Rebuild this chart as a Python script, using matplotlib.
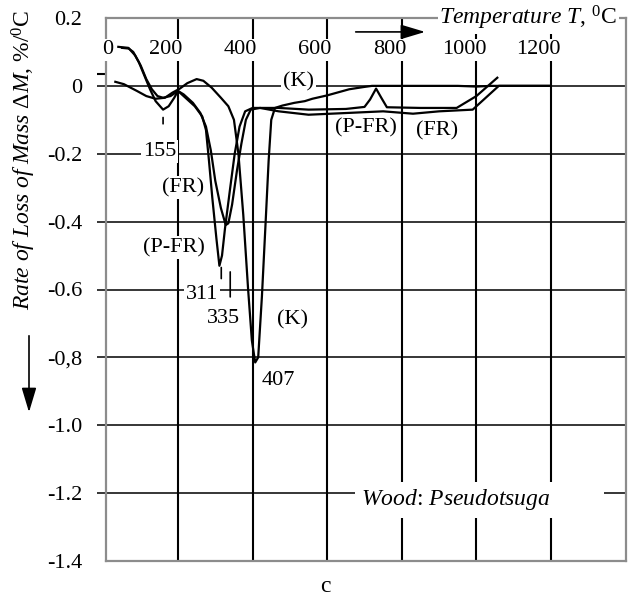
import matplotlib
matplotlib.use('Agg')
import matplotlib.pyplot as plt

plt.rcParams['font.family'] = ['Liberation Serif', 'DejaVu Serif']
plt.rcParams['mathtext.fontset'] = 'custom'
plt.rcParams['mathtext.rm'] = 'Liberation Serif'
plt.rcParams['mathtext.it'] = 'Liberation Serif:italic'

# curves (temperature, rate)
k_t = [32, 55, 90, 115, 140, 165, 185, 205, 225, 250, 268, 290, 315, 335, 350, 362, 375,
       388, 398, 407, 415, 425, 435, 443, 450, 460, 480, 512, 540, 560, 600, 659, 700,
       720, 800, 950, 1000, 1040, 1198]
k_r = [0.012, 0.005, -0.015, -0.03, -0.038, -0.035, -0.02, -0.008, 0.008, 0.02, 0.015,
       -0.005, -0.035, -0.06, -0.1, -0.2, -0.38, -0.6, -0.75, -0.815, -0.8, -0.62, -0.4,
       -0.22, -0.1, -0.065, -0.058, -0.05, -0.045, -0.038, -0.028, -0.01, -0.003, 0.0,
       0.0, 0.0, -0.002, 0.0, 0.0]

pfr_t = [40, 67, 85, 100, 115, 130, 145, 160, 180, 200, 220, 245, 265, 275, 283, 292, 303,
         311, 318, 326, 340, 352, 365, 380, 400, 470, 550, 650, 700, 715, 731, 745, 760,
         850, 947, 1000, 1056]
pfr_r = [0.115, 0.112, 0.09, 0.06, 0.02, -0.01, -0.03, -0.035, -0.03, -0.015, -0.035,
         -0.06, -0.09, -0.13, -0.22, -0.33, -0.45, -0.53, -0.5, -0.42, -0.3, -0.2, -0.12,
         -0.075, -0.065, -0.065, -0.07, -0.068, -0.062, -0.04, -0.008, -0.035, -0.063,
         -0.065, -0.065, -0.03, 0.024]

fr_t = [50, 68, 80, 95, 110, 125, 140, 160, 175, 190, 200, 215, 240, 260, 275, 288, 300,
        315, 328, 335, 345, 358, 370, 382, 395, 420, 470, 550, 650, 750, 830, 900, 990,
        1030, 1060, 1198]
fr_r = [0.112, 0.11, 0.1, 0.07, 0.03, -0.01, -0.045, -0.07, -0.06, -0.035, -0.015, -0.025,
        -0.05, -0.08, -0.12, -0.19, -0.28, -0.36, -0.41, -0.405, -0.35, -0.25, -0.17,
        -0.1, -0.07, -0.065, -0.075, -0.085, -0.08, -0.075, -0.082, -0.075, -0.07, -0.03,
        0.0, 0.0]

x_ticks = [0, 200, 400, 600, 800, 1000, 1200]
x_labels = ['0', '200', '400', '600', '800', '1000', '1200']
y_ticks = [0.2, 0, -0.2, -0.4, -0.6, -0.8, -1.0, -1.2, -1.4]
y_labels = ['0.2', '0', '-0.2', '-0.4', '-0.6', '-0,8', '-1.0', '-1.2', '-1.4']

# peak annotations: text, text position, leader line
peaks = [('155', (150, -0.194), (160, -0.085, -0.12)),
         ('311', (265, -0.615), (316, -0.527, -0.576)),
         ('335', (321, -0.685), (340, -0.54, -0.63)),
         ('407', (468, -0.868), None)]
curve_tags = [('(K)', 522, 0.012), ('(P-FR)', 705, -0.124), ('(FR)', 895, -0.133),
              ('(FR)', 214, -0.30), ('(P-FR)', 190, -0.476), ('(K)', 508, -0.688)]

W, H = 636, 598
fig = plt.figure(figsize=(W / 100, H / 100), dpi=100)
ax = fig.add_axes([106 / W, 1 - 561 / H, 520 / W, 543 / H])
ax.set_xlim(7, 1401)
ax.set_ylim(-1.4, 0.2)

for s in ax.spines.values():
    s.set_color('#8c8c8c')
    s.set_linewidth(1.6)

ax.set_xticks([])
ax.set_yticks(y_ticks)
ax.set_yticklabels(y_labels, fontsize=16)
ax.tick_params(axis='y', length=0, pad=17)

# grid
for t in x_ticks[1:]:
    ax.axvline(t, color='black', lw=1.5, zorder=1)
for v in y_ticks[1:-1]:
    ax.hlines(v, -17, 1401, color='black', lw=1.1, zorder=1, clip_on=False)
ax.hlines(0.035, -17, 7, color='black', lw=1.5, clip_on=False)

# x tick labels sit inside the frame
for t, lab in zip(x_ticks, x_labels):
    xp = 12 if t == 0 else t - 33
    ax.text(xp, 0.106, lab, fontsize=16, ha='center', va='center', zorder=6,
            bbox=dict(facecolor='white', edgecolor='none', pad=1))

for tt, rr in [(k_t, k_r), (pfr_t, pfr_r), (fr_t, fr_r)]:
    ax.plot(tt, rr, color='black', lw=1.6, zorder=3)

wb = dict(facecolor='white', edgecolor='none', pad=1.5)
for lab, (tx, ty), lead in peaks:
    ax.text(tx, ty, lab, fontsize=16, ha='center', va='center', zorder=5, bbox=wb)
    if lead:
        ax.annotate('', xy=(lead[0], lead[2]), xytext=(lead[0], lead[1]),
                    arrowprops=dict(arrowstyle='-', lw=1.2, color='black'), zorder=5)
for lab, tx, ty in curve_tags:
    ax.text(tx, ty, lab, fontsize=16, ha='center', va='center', zorder=5, bbox=wb)

ax.text(901, 0.2, r'$\it{Temperature\ T}$, $^{0}$C', fontsize=17, ha='left', va='center',
        zorder=6, clip_on=False,
        bbox=dict(facecolor='white', edgecolor='none', pad=1))
ax.annotate('', xy=(870, 0.159), xytext=(669, 0.159),
            arrowprops=dict(arrowstyle='-|>,head_length=1.0,head_width=0.3',
                            mutation_scale=15, color='black', lw=1.2))

ax.text(690, -1.22, r'$\it{Wood}$: $\it{Pseudotsuga}$' + ' ' * 9, fontsize=17,
        ha='left', va='center', zorder=6,
        bbox=dict(facecolor='white', edgecolor='none', pad=4))

fig.text(24 / W, 1 - 160 / H, r'$\it{Rate\ of\ Loss\ of\ Mass\ \Delta M}$, %/$^{0}$C',
         fontsize=17, rotation=90, ha='center', va='center')
ax.annotate('', xy=(29, H - 415), xycoords='figure pixels',
            xytext=(29, H - 333), textcoords='figure pixels',
            arrowprops=dict(arrowstyle='-|>,head_length=1.0,head_width=0.3',
                            mutation_scale=15, color='black', lw=1.2))

fig.text(325 / W, 1 - 587 / H, 'c', fontsize=17, ha='center', va='center')

fig.savefig('out.png', dpi=100)
